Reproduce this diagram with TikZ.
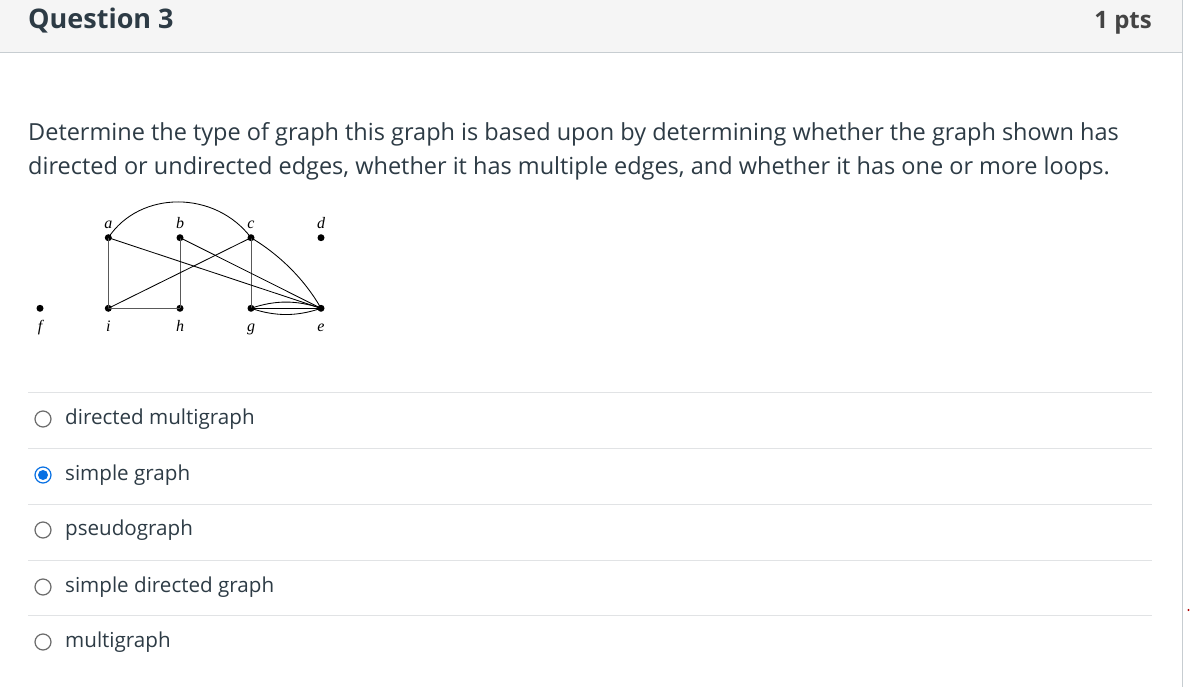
\documentclass[tikz,border=0pt]{standalone}
\usepackage{fontspec}
\setmainfont{Open Sans}
\newfontfamily\labfont{Liberation Serif}
\definecolor{hdr}{HTML}{F5F5F5}
\definecolor{bord}{HTML}{C7CDD1}
\definecolor{sep}{HTML}{E1E3E5}
\definecolor{txt}{HTML}{2D3B45}
\definecolor{ptsc}{HTML}{444444}
\definecolor{radioc}{HTML}{6B6B6B}
\definecolor{blueR}{HTML}{0770E3}
\begin{document}
\begin{tikzpicture}[x=1pt,y=-1pt,
  headtext/.style={font=\fontsize{27}{30}\selectfont\bfseries, text=txt, inner sep=0pt},
  bodytext/.style={font=\fontsize{23.5}{28}\selectfont, text=txt, inner sep=0pt, anchor=base west},
  opttext/.style={font=\fontsize{20.6}{26}\selectfont, text=txt, inner sep=0pt, anchor=west},
  vert/.style={circle, fill=black, inner sep=0pt, minimum size=7pt},
  vlab/.style={font=\labfont\itshape\fontsize{16}{18}\selectfont, inner sep=0pt, anchor=base},
  edge/.style={draw=black, line width=0.85pt},
  gedge/.style={draw=black!65, line width=1pt},
  radio/.style={circle, draw=radioc, line width=1.2pt, minimum size=16pt, inner sep=0pt},
  sepline/.style={draw=sep, line width=1pt}]
\useasboundingbox (0,0) rectangle (1191,687);
\fill[white] (0,0) rectangle (1191,687);
\fill[hdr] (0,0) rectangle (1182,52);
\draw[bord, line width=1.2pt] (0,52.5) -- (1182,52.5);
\draw[bord, line width=1pt] (1182.5,0) -- (1182.5,687);
\fill[red!70!black] (1188.5,610) circle (1.2pt);

\node[headtext, anchor=base west] (q) at (28,29) {Question 3};
\node[headtext, anchor=base east, text=ptsc, font=\fontsize{24}{28}\selectfont\bfseries] (pts) at (1152,28.5) {1 pts};

\node[bodytext] (l1) at (28,141) {Determine the type of graph this graph is based upon by determining whether the graph shown has};
\node[bodytext] (l2) at (28,175) {directed or undirected edges, whether it has multiple edges, and whether it has one or more loops.};

% graph
\node[vert] (a) at (108.3,237.7) {};
\node[vert] (b) at (180,237.7) {};
\node[vert] (c) at (251,237.7) {};
\node[vert] (d) at (321,237.7) {};
\node[vert] (f) at (40,308.3) {};
\node[vert] (i) at (108.3,308.3) {};
\node[vert] (h) at (180,308.3) {};
\node[vert] (g) at (251,308.3) {};
\node[vert] (e) at (321,308.3) {};
\node[vlab] (la) at (108.3,229) {a};
\node[vlab] (lb) at (180,229) {b};
\node[vlab] (lc) at (251,229) {c};
\node[vlab] (ld) at (321,229) {d};
\node[vlab] (lf) at (40,331) {f};
\node[vlab] (li) at (108.3,331) {i};
\node[vlab] (lh) at (180,331) {h};
\node[vlab] (lg) at (251,331) {g};
\node[vlab] (le) at (321,331) {e};

\draw[gedge] (a.center) -- (i.center);
\draw[gedge] (b.center) -- (h.center);
\draw[gedge] (i.center) -- (h.center);
\draw[gedge] (c.center) -- (g.center);
\draw[edge] (a.center) .. controls (140,190) and (215,190) .. (c.center);
\draw[edge] (a.center) -- (e.center);
\draw[edge] (b.center) -- (e.center);
\draw[edge] (c.center) -- (i.center);
\draw[edge] (c.center) .. controls (280,255) and (305,280) .. (e.center);
\draw[edge] (g.center) -- (e.center);
\draw[edge] (g.center) .. controls (275,300) and (297,300) .. (e.center);
\draw[edge] (g.center) .. controls (275,316.6) and (297,316.6) .. (e.center);

% options
\foreach \yy in {392,448,504,560,615} \draw[sepline] (28,\yy) -- (1152,\yy);
\node[radio] (r1) at (43,419) {};
\node[radio, draw=blueR] (r2) at (43,475) {};
\fill[blueR] (r2.center) circle (5pt);
\node[radio] (r3) at (43,530) {};
\node[radio] (r4) at (43,587) {};
\node[radio] (r5) at (43,642) {};
\node[opttext] (t1) at (65,419) {directed multigraph};
\node[opttext] (t2) at (65,475) {simple graph};
\node[opttext] (t3) at (65,530) {pseudograph};
\node[opttext] (t4) at (65,587) {simple directed graph};
\node[opttext] (t5) at (65,642) {multigraph};
\end{tikzpicture}
\end{document}
